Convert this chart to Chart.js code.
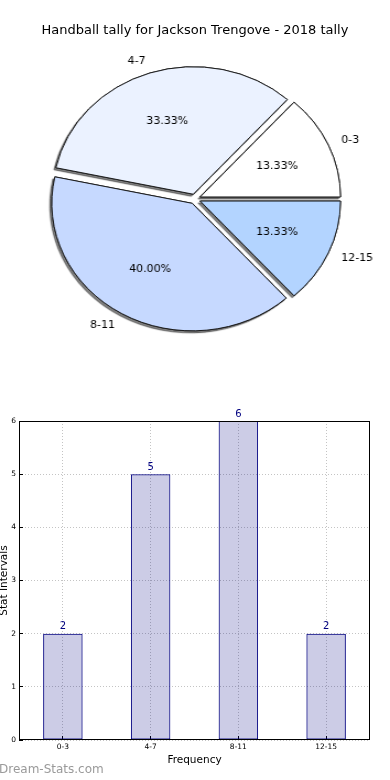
<!DOCTYPE html>
<html>
<head>
<meta charset="utf-8">
<script src="https://cdn.jsdelivr.net/npm/chart.js@4.4.1/dist/chart.umd.min.js"></script>
<style>
html, body { margin:0; padding:0; background:#fff; width:390px; height:780px; overflow:hidden; position:relative; font-family:"DejaVu Sans", sans-serif; }
#pie { position:absolute; left:0; top:0; }
#title { position:absolute; left:0; top:22px; width:390px; text-align:center; font-size:13px; line-height:16px; color:#000; }
#bar { position:absolute; left:0; top:390px; }
#brand { position:absolute; left:-1px; top:762px; font-size:12px; line-height:14px; color:#9a9a9a; }
</style>
</head>
<body>
<canvas id="pie" width="354" height="380" style="width:390px;height:380px"></canvas>
<div id="title">Handball tally for Jackson Trengove - 2018 tally</div>
<canvas id="bar" width="390" height="390" style="width:390px;height:390px"></canvas>
<div id="brand">Dream-Stats.com</div>
<script>
// ---- data ----
var CATEGORIES = ['0-3', '4-7', '8-11', '12-15'];
var COUNTS = [2, 5, 6, 2];
var SLICE_COLORS = ['#ffffff', '#ebf2ff', '#c6d9ff', '#b3d4ff'];
var Y_MAX = 6;

Chart.defaults.font.family = '"DejaVu Sans", sans-serif';
Chart.defaults.color = '#000';

// pie is drawn clockwise from 3 o'clock, the original goes counter-clockwise
var TOTAL = COUNTS.reduce(function(a, b) { return a + b; }, 0);
var PIE_LABELS = CATEGORIES.slice().reverse();
var PIE_VALUES = COUNTS.slice().reverse();
var PIE_COLORS = SLICE_COLORS.slice().reverse();
var PIE_PCT = PIE_VALUES.map(function(v) { return (v / TOTAL * 100).toFixed(2) + '%'; });

var STRETCH = 390 / 354;   // canvas is widened by css -> elliptic pie
var EXPLODE = 5;

var explodePlugin = {
    id: 'explode',
    afterDatasetUpdate: function(chart, args) {
        args.meta.data.forEach(function(arc) {
            var mid = (arc.startAngle + arc.endAngle) / 2;
            arc.x += Math.cos(mid) * EXPLODE;
            arc.y += Math.sin(mid) * EXPLODE;
        });
    }
};

// shadows go under every slice: draw the arcs once with a shadow, the normal pass covers them
var shadowPlugin = {
    id: 'shadow',
    beforeDatasetsDraw: function(chart) {
        var c = chart.ctx;
        c.save();
        c.shadowColor = 'rgba(0,0,0,0.5)';
        c.shadowOffsetX = -1.8;
        c.shadowOffsetY = 2;
        c.shadowBlur = 1;
        chart.getDatasetMeta(0).data.forEach(function(arc) { arc.draw(c); });
        c.restore();
    }
};

var pieLabelPlugin = {
    id: 'pieLabels',
    afterDraw: function(chart) {
        var ctx = chart.ctx, meta = chart.getDatasetMeta(0);
        function put(t, x, y, align) {
            ctx.save();
            ctx.translate(x, y);
            ctx.scale(1 / STRETCH, 1);
            ctx.textAlign = align;
            ctx.fillText(t, 0, 0);
            ctx.restore();
        }
        ctx.save();
        ctx.font = '11px "DejaVu Sans"';
        ctx.fillStyle = '#000';
        ctx.textBaseline = 'middle';
        meta.data.forEach(function(arc, i) {
            var mid = (arc.startAngle + arc.endAngle) / 2, r = arc.outerRadius;
            var c = Math.cos(mid), s = Math.sin(mid);
            put(PIE_PCT[i], arc.x + c * r * 0.6, arc.y + s * r * 0.6, 'center');
            put(PIE_LABELS[i], arc.x + c * r * 1.1, arc.y + s * r * 1.1, c > 0 ? 'left' : 'right');
        });
        ctx.restore();
    }
};

new Chart(document.getElementById('pie'), {
    type: 'pie',
    data: {
        labels: PIE_LABELS,
        datasets: [{
            data: PIE_VALUES,
            backgroundColor: PIE_COLORS,
            borderColor: '#1a1a1a',
            borderWidth: 1,
            rotation: 90,
            radius: 127.5,
            clip: false
        }]
    },
    options: {
        responsive: false, animation: false, events: [],
        layout: { padding: { left: 0, right: 0, top: 18, bottom: 0 } },
        plugins: { legend: { display: false }, tooltip: { enabled: false } }
    },
    plugins: [explodePlugin, shadowPlugin, pieLabelPlugin]
});

// ---- bar chart ----
var framePlugin = {
    id: 'frame',
    afterDatasetsDraw: function(chart) {
        var a = chart.chartArea, ctx = chart.ctx;
        ctx.save();
        ctx.strokeStyle = '#000';
        ctx.lineWidth = 1;
        ctx.strokeRect(a.left + 0.5, a.top + 0.5, a.right - a.left - 1, a.bottom - a.top - 1);
        ctx.restore();
    }
};

var barValuePlugin = {
    id: 'barValues',
    afterDraw: function(chart) {
        var ctx = chart.ctx, meta = chart.getDatasetMeta(0);
        ctx.save();
        ctx.font = '10px "DejaVu Sans"';
        ctx.fillStyle = '#000080';
        ctx.textAlign = 'center';
        ctx.textBaseline = 'alphabetic';
        meta.data.forEach(function(bar, i) {
            ctx.fillText(String(COUNTS[i]), bar.x, bar.y - 4.5);
        });
        ctx.restore();
    }
};

var gridOpts = { color: '#c4c4c4', lineWidth: 1, drawTicks: true, tickLength: -4, tickColor: '#000', tickWidth: 1 };

new Chart(document.getElementById('bar'), {
    type: 'bar',
    data: {
        labels: CATEGORIES,
        datasets: [{
            data: COUNTS,
            backgroundColor: 'rgba(0,0,128,0.2)',
            borderColor: '#000080',
            borderWidth: 1,
            borderSkipped: false,
            barPercentage: 0.45,
            categoryPercentage: 1
        }]
    },
    options: {
        responsive: false, animation: false, events: [],
        layout: { padding: { left: 0, right: 20, top: 31, bottom: 0 } },
        plugins: { legend: { display: false }, tooltip: { enabled: false } },
        scales: {
            x: {
                offset: true,
                grid: Object.assign({ offset: false }, gridOpts),
                border: { display: false, dash: [1, 2] },
                ticks: { font: { size: 7.5 }, padding: 7, maxRotation: 0, autoSkip: false },
                title: { display: true, text: 'Frequency', font: { size: 10.5 }, padding: { top: 0, bottom: 13 } },
                afterFit: function(s) { s.height = 40; }
            },
            y: {
                min: 0, max: Y_MAX,
                grid: gridOpts,
                border: { display: false, dash: [1, 2] },
                ticks: { stepSize: 1, font: { size: 7.5 }, padding: 7 },
                title: { display: true, text: 'Stat Intervals', font: { size: 10.5, lineHeight: 0.8 }, padding: 0 },
                afterFit: function(s) { s.width = 19; }
            }
        }
    },
    plugins: [framePlugin, barValuePlugin]
});
</script>
</body>
</html>
